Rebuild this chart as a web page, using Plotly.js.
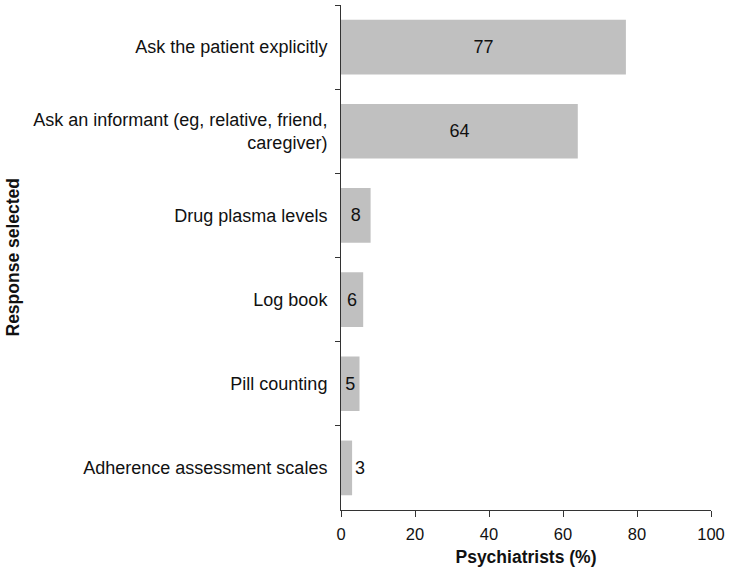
<!DOCTYPE html>
<html>
<head>
<meta charset="utf-8">
<script src="https://cdn.plot.ly/plotly-3.0.1.min.js"></script>
<style>html,body{margin:0;padding:0;background:#fff;}#chart{width:731px;height:573px;}</style>
</head>
<body>
<div id="chart"></div>
<script>
var categories = [
  "Ask the patient explicitly",
  "Ask an informant (eg, relative, friend,<br>caregiver)",
  "Drug plasma levels",
  "Log book",
  "Pill counting",
  "Adherence assessment scales"
];
var values = [77, 64, 8, 6, 5, 3];
var xTicks = [0, 20, 40, 60, 80, 100];

var font = "Liberation Sans, Arial, Helvetica, sans-serif";
var trace = {
  type: "bar",
  orientation: "h",
  y: categories,
  x: values,
  text: values.map(String),
  textposition: values.map(function(v){ return v < 4 ? "outside" : "inside"; }),
  insidetextanchor: "middle",
  constraintext: "none",
  cliponaxis: false,
  textfont: {family: font, size: 18, color: "#111"},
  marker: {color: "#c0c0c0", line: {width: 0}},
  hoverinfo: "none"
};
var layout = {
  width: 731, height: 573,
  margin: {l: 341, r: 20, t: 5, b: 63},
  paper_bgcolor: "#fff", plot_bgcolor: "#fff",
  bargap: 0.35,
  showlegend: false,
  font: {family: font, size: 16, color: "#111"},
  xaxis: {
    range: [0, 100],
    tickvals: xTicks,
    ticktext: xTicks.map(String),
    showgrid: false, zeroline: false,
    showline: true, linecolor: "#333", linewidth: 1,
    ticks: "outside", ticklen: 6, tickcolor: "#333",
    ticklabelstandoff: 3,
    tickfont: {family: font, size: 16.5, color: "#111"},
    title: {text: "<b>Psychiatrists (%)</b>", font: {family: font, size: 17.5, color: "#111"}, standoff: 8},
    automargin: false,
    fixedrange: true
  },
  yaxis: {
    autorange: "reversed",
    type: "category",
    showgrid: false, zeroline: false,
    showline: true, linecolor: "#333", linewidth: 1,
    ticks: "outside", ticklen: 5, tickcolor: "#333",
    tickson: "boundaries",
    ticklabelstandoff: 9,
    automargin: false,
    tickfont: {family: font, size: 18, color: "#111"},
    fixedrange: true
  },
  annotations: [{
    text: "<b>Response selected</b>",
    xref: "paper", yref: "paper",
    x: (12 - 341) / 370, y: 0.5,
    xanchor: "center", yanchor: "middle",
    textangle: -90, showarrow: false,
    font: {family: font, size: 17.5, color: "#111"}
  }]
};
Plotly.newPlot("chart", [trace], layout, {displayModeBar: false, staticPlot: true});
</script>
</body>
</html>
